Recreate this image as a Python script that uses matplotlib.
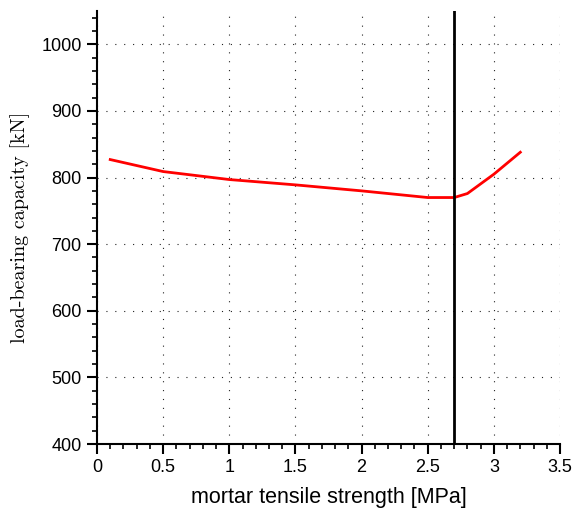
import matplotlib
matplotlib.use("Agg")
import matplotlib.pyplot as plt
from matplotlib.ticker import MultipleLocator

strength = [0.1, 0.5, 1.0, 1.5, 2.0, 2.5, 2.6, 2.7, 2.8, 3.0, 3.2]
capacity = [827, 809, 797, 789, 780, 770, 770, 770, 776, 805, 838]
x_marker = 2.7

fig = plt.figure(figsize=(5.73, 5.12), dpi=100)
ax = fig.add_axes([0.1693, 0.1328, 0.808, 0.8457])

ax.plot(strength, capacity, color="#ff0000", lw=2.0, zorder=3)
ax.axvline(x_marker, color="black", lw=2.0, zorder=4)

ax.set_xlim(0, 3.5)
ax.set_ylim(400, 1050)
ax.xaxis.set_major_locator(MultipleLocator(0.5))
ax.xaxis.set_minor_locator(MultipleLocator(0.1))
ax.yaxis.set_major_locator(MultipleLocator(100))
ax.yaxis.set_minor_locator(MultipleLocator(20))

ax.set_xticks([0, 0.5, 1, 1.5, 2, 2.5, 3, 3.5])
ax.set_xticklabels(["0", "0.5", "1", "1.5", "2", "2.5", "3", "3.5"])

for s in ["top", "right"]:
    ax.spines[s].set_visible(False)
for s in ["left", "bottom"]:
    ax.spines[s].set_linewidth(1.5)

ax.tick_params(which="major", direction="out", length=7, width=1.5, labelsize=13, pad=4)
ax.tick_params(which="minor", direction="out", length=3.5, width=1.2)
for lab in ax.get_xticklabels() + ax.get_yticklabels():
    lab.set_fontfamily("Liberation Sans")

ax.grid(True, which="major", color="#222222", lw=0.8, linestyle=(0, (1, 7)))

ax.set_xlabel("mortar tensile strength [MPa]", fontfamily="Liberation Sans", fontsize=15.5, labelpad=8)
ax.set_ylabel("load-bearing capacity [kN]", fontfamily="cmr10", fontsize=14.5, labelpad=8)

fig.savefig("out.png", dpi=100)
